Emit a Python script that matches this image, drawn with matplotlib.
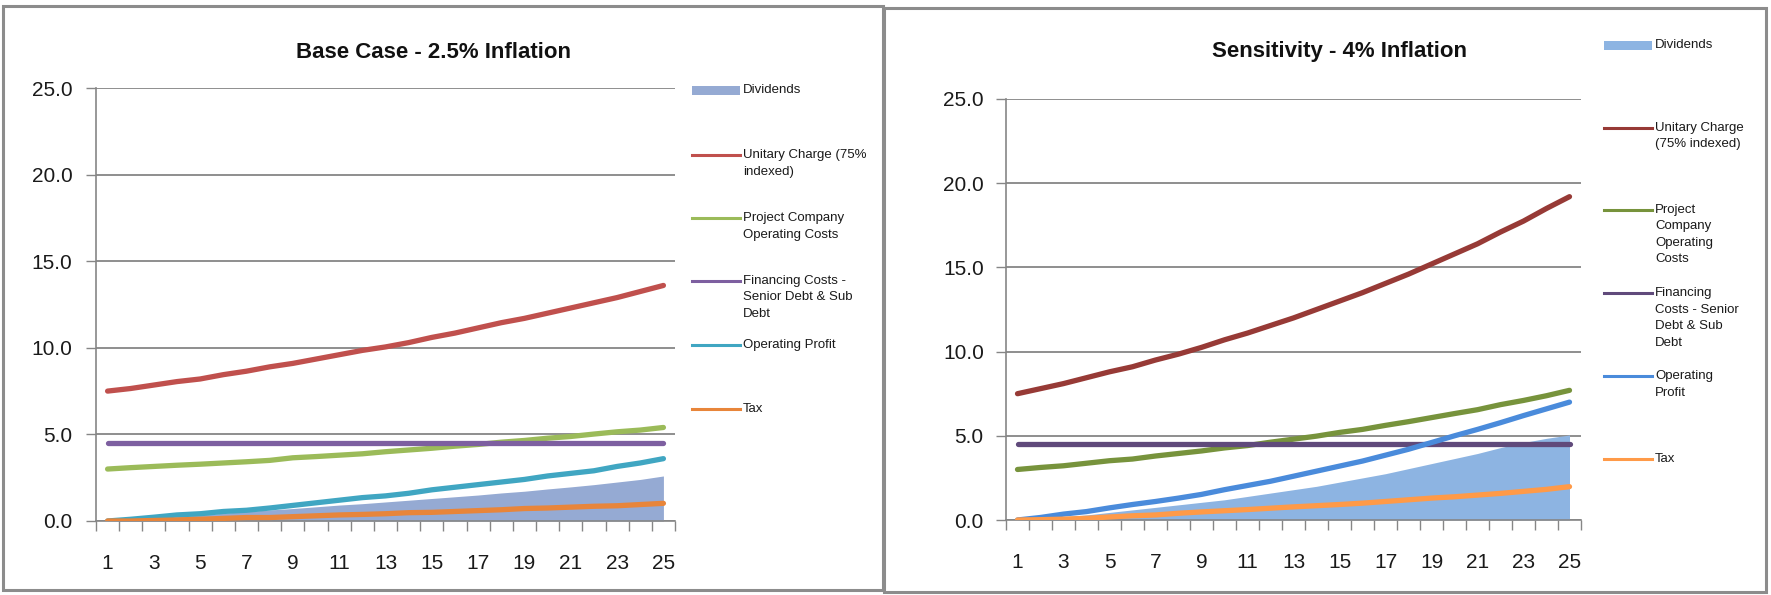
import matplotlib
matplotlib.use("Agg")
import matplotlib.pyplot as plt
from matplotlib.lines import Line2D
from matplotlib.patches import Rectangle

plt.rcParams['font.family'] = ['Liberation Sans', 'DejaVu Sans']

years = list(range(1, 26))
xtick_labels = [str(y) for y in range(1, 26, 2)]
yticks = [0, 5, 10, 15, 20, 25]

# ---- Base case: 2.5% inflation ----
base_title = "Base Case - 2.5% Inflation"
base_dividends = [0.0, 0.05, 0.15, 0.25, 0.35, 0.45, 0.55, 0.64, 0.72, 0.82, 0.92, 1.0, 1.1,
                  1.2, 1.3, 1.4, 1.5, 1.62, 1.72, 1.85, 1.97, 2.1, 2.25, 2.4, 2.6]
base_unitary = [7.5, 7.65, 7.85, 8.05, 8.2, 8.45, 8.65, 8.9, 9.1, 9.35, 9.6, 9.85, 10.05,
                10.3, 10.6, 10.85, 11.15, 11.45, 11.7, 12.0, 12.3, 12.6, 12.9, 13.25, 13.6]
base_opcosts = [3.0, 3.08, 3.15, 3.22, 3.28, 3.35, 3.42, 3.5, 3.65, 3.72, 3.8, 3.88, 4.0,
                4.1, 4.2, 4.32, 4.42, 4.55, 4.65, 4.78, 4.88, 5.02, 5.15, 5.25, 5.4]
base_financing = [4.52] * 25
base_opprofit = [0.0, 0.1, 0.22, 0.35, 0.42, 0.55, 0.62, 0.75, 0.9, 1.05, 1.2, 1.35, 1.45,
                 1.6, 1.8, 1.95, 2.1, 2.25, 2.4, 2.6, 2.75, 2.9, 3.15, 3.35, 3.6]
base_tax = [0.0, 0.0, 0.03, 0.06, 0.1, 0.15, 0.2, 0.2, 0.25, 0.3, 0.35, 0.38, 0.42,
            0.48, 0.5, 0.55, 0.6, 0.65, 0.72, 0.75, 0.8, 0.85, 0.88, 0.95, 1.02]
base_labels = ["Dividends", "Unitary Charge (75%\nindexed)", "Project Company\nOperating Costs",
               "Financing Costs -\nSenior Debt & Sub\nDebt", "Operating Profit", "Tax"]

# ---- Sensitivity: 4% inflation ----
sens_title = "Sensitivity - 4% Inflation"
sens_dividends = [0.0, 0.1, 0.2, 0.3, 0.45, 0.6, 0.75, 0.9, 1.05, 1.2, 1.4, 1.6, 1.8,
                  2.0, 2.25, 2.5, 2.75, 3.05, 3.35, 3.65, 3.95, 4.3, 4.6, 4.85, 5.05]
sens_unitary = [7.5, 7.8, 8.1, 8.45, 8.8, 9.1, 9.5, 9.85, 10.25, 10.7, 11.1, 11.55, 12.0,
                12.5, 13.0, 13.5, 14.05, 14.6, 15.2, 15.8, 16.4, 17.1, 17.75, 18.5, 19.2]
sens_opcosts = [3.0, 3.12, 3.22, 3.37, 3.52, 3.62, 3.8, 3.95, 4.1, 4.28, 4.42, 4.62, 4.8,
                4.98, 5.2, 5.38, 5.62, 5.84, 6.08, 6.32, 6.55, 6.85, 7.1, 7.38, 7.7]
sens_financing = [4.52] * 25
sens_opprofit = [0.0, 0.15, 0.35, 0.5, 0.72, 0.92, 1.1, 1.3, 1.52, 1.8, 2.05, 2.3, 2.6,
                 2.9, 3.2, 3.5, 3.85, 4.2, 4.6, 5.0, 5.38, 5.78, 6.2, 6.6, 7.0]
sens_tax = [0.0, 0.02, 0.05, 0.1, 0.18, 0.25, 0.3, 0.4, 0.48, 0.55, 0.62, 0.7, 0.78,
            0.85, 0.92, 1.0, 1.1, 1.2, 1.3, 1.38, 1.48, 1.58, 1.7, 1.82, 1.98]
sens_labels = ["Dividends", "Unitary Charge\n(75% indexed)", "Project\nCompany\nOperating\nCosts",
               "Financing\nCosts - Senior\nDebt & Sub\nDebt", "Operating\nProfit", "Tax"]

base_colors = ["#95AAD3", "#C0504D", "#9BBB59", "#7D5FA0", "#40A6C2", "#E8853A"]
sens_colors = ["#8DB4E2", "#973A36", "#77933C", "#604A7B", "#4A8BDB", "#FF9A48"]

W, H = 1771, 595
fig = plt.figure(figsize=(W / 100, H / 100), dpi=100)
fig.patch.set_facecolor("white")


def fx(px):
    return px / W


def fy(py):
    return 1 - py / H


# panel borders
for (x0, y0, x1, y1) in [(3, 6, 883, 590), (884, 8, 1766, 592)]:
    fig.add_artist(Rectangle((fx(x0), fy(y1)), fx(x1 - x0), (y1 - y0) / H,
                             transform=fig.transFigure, fill=False,
                             edgecolor="#8C8C8C", lw=2.2))


def draw_panel(ax_px, title, title_xy, series, labels, colors, leg_x, leg_ys, ypad):
    l, r, t, b = ax_px
    ax = fig.add_axes([fx(l), fy(b), fx(r - l), (b - t) / H])
    div, uni, opc, fin, opp, tax = series
    ax.fill_between(years, 0, div, color=colors[0], lw=0, zorder=1)
    for s, c in zip([uni, opc, fin, opp, tax], colors[1:]):
        ax.plot(years, s, color=c, lw=3.8, solid_capstyle="round", zorder=3)
    ax.set_xlim(0.5, 25.5)
    ax.set_ylim(0, 25)
    ax.set_yticks(yticks)
    ax.set_yticklabels([f"{v:.1f}" for v in yticks], fontsize=15, color="#1a1a1a")
    ax.set_xticks(range(1, 26, 2))
    ax.set_xticklabels(xtick_labels, fontsize=15, color="#1a1a1a")
    ax.set_xticks([i + 0.5 for i in range(0, 26)], minor=True)
    ax.tick_params(axis="x", which="major", length=0, pad=24)
    ax.tick_params(axis="x", which="minor", length=7, width=1.0, color="#868686", direction="out")
    ax.tick_params(axis="y", which="major", length=7, width=1.0, color="#868686",
                   direction="out", pad=ypad)
    ax.yaxis.grid(True, color="#868686", lw=1.3)
    ax.set_axisbelow(True)
    for s in ["top", "right"]:
        ax.spines[s].set_visible(False)
    for s in ["left", "bottom"]:
        ax.spines[s].set_color("#868686")
        ax.spines[s].set_linewidth(1.2)
    fig.text(fx(title_xy[0]), fy(title_xy[1]), title, ha="center", va="center",
             fontsize=16, fontweight="bold", color="#111111")
    # legend
    for i, (lab, c, yy) in enumerate(zip(labels, colors, leg_ys)):
        if i == 0:
            fig.add_artist(Rectangle((fx(leg_x), fy(yy + 4.5)), fx(48), 9 / H,
                                     transform=fig.transFigure, facecolor=c, lw=0))
        else:
            fig.add_artist(Line2D([fx(leg_x), fx(leg_x + 48)], [fy(yy), fy(yy)],
                                  transform=fig.transFigure, color=c, lw=2.2))
        fig.text(fx(leg_x + 51), fy(yy - 6), lab, ha="left", va="top", fontsize=9.5,
                 color="#1a1a1a", linespacing=1.5)
    return ax


draw_panel((96, 675, 88, 521), base_title, (433, 52),
           [base_dividends, base_unitary, base_opcosts, base_financing, base_opprofit, base_tax],
           base_labels, base_colors, 692, [90, 155, 218, 281, 345, 409], 10)
draw_panel((1006, 1581, 99, 520), sens_title, (1339, 52),
           [sens_dividends, sens_unitary, sens_opcosts, sens_financing, sens_opprofit, sens_tax],
           sens_labels, sens_colors, 1604, [45, 128, 210, 293, 376, 459], 9)

fig.savefig("out.png", dpi=100, facecolor="white")
